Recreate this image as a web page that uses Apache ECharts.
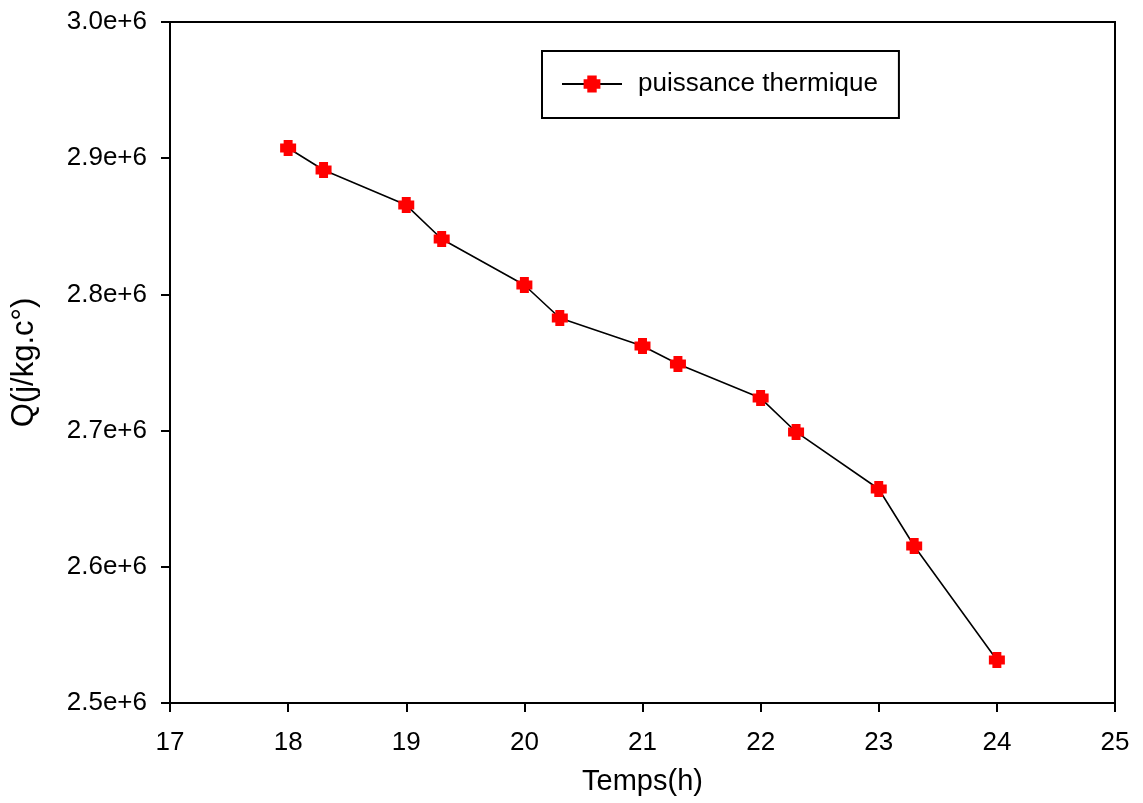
<!DOCTYPE html>
<html>
<head>
<meta charset="utf-8">
<script src="https://cdn.jsdelivr.net/npm/echarts@6/dist/echarts.min.js"></script>
<style>
  html, body { margin: 0; padding: 0; background: #fff; }
  #chart { width: 1143px; height: 803px; }
</style>
</head>
<body>
<div id="chart"></div>
<script>
// hours and thermal power values
var hours = [18, 18.3, 19, 19.3, 20, 20.3, 21, 21.3, 22, 22.3, 23, 23.3, 24];
var power = [2.9075e6, 2.8913e6, 2.8656e6, 2.8407e6, 2.8069e6, 2.7827e6, 2.7621e6,
             2.7489e6, 2.7239e6, 2.6990e6, 2.6571e6, 2.6153e6, 2.5316e6];
var yTicks = ['2.5e+6', '2.6e+6', '2.7e+6', '2.8e+6', '2.9e+6', '3.0e+6'];

var font = 'Liberation Sans, Arial, sans-serif';
var plus = 'path://M0.22,0H0.78V0.22H1V0.78H0.78V1H0.22V0.78H0V0.22H0.22Z';

var chart = echarts.init(document.getElementById('chart'));
chart.setOption({
	animation: false,
	backgroundColor: '#fff',
	grid: { left: 170, right: 28, top: 22, bottom: 100, show: true, borderColor: '#000', borderWidth: 2 },
	legend: {
		left: 542, top: 51,
		padding: [20, 21, 21, 19],
		borderColor: '#000', borderWidth: 2,
		itemWidth: 60, itemHeight: 21, itemGap: 10,
		textStyle: { fontFamily: font, fontSize: 26, color: '#000', padding: [0, 0, 0, 11] },
		data: ['puissance thermique']
	},
	xAxis: {
		type: 'value', min: 17, max: 25, interval: 1,
		name: 'Temps(h)', nameLocation: 'middle', nameGap: 64,
		nameTextStyle: { fontFamily: font, fontSize: 29, color: '#000' },
		axisLine: { lineStyle: { color: '#000', width: 2 } },
		axisTick: { inside: false, length: 9, lineStyle: { color: '#000', width: 2 } },
		axisLabel: { fontFamily: font, fontSize: 26, color: '#000', margin: 27 },
		splitLine: { show: false }
	},
	yAxis: {
		type: 'value', min: 2.5e6, max: 3.0e6, interval: 0.1e6,
		name: 'Q(j/kg.c°)', nameLocation: 'middle', nameGap: 130,
		nameTextStyle: { fontFamily: font, fontSize: 31, color: '#000' },
		axisLine: { lineStyle: { color: '#000', width: 2 } },
		axisTick: { inside: false, length: 9, lineStyle: { color: '#000', width: 2 } },
		axisLabel: {
			fontFamily: font, fontSize: 26, color: '#000', margin: 23,
			formatter: function (v) { return yTicks[Math.round((v - 2.5e6) / 1e5)]; }
		},
		splitLine: { show: false }
	},
	series: [{
		name: 'puissance thermique',
		type: 'line',
		data: hours.map(function (h, i) { return [h, power[i]]; }),
		symbol: plus, symbolSize: 16,
		itemStyle: { color: '#ff0000', borderWidth: 0 },
		lineStyle: { color: '#000', width: 1.6 }
	}]
});
</script>
</body>
</html>
